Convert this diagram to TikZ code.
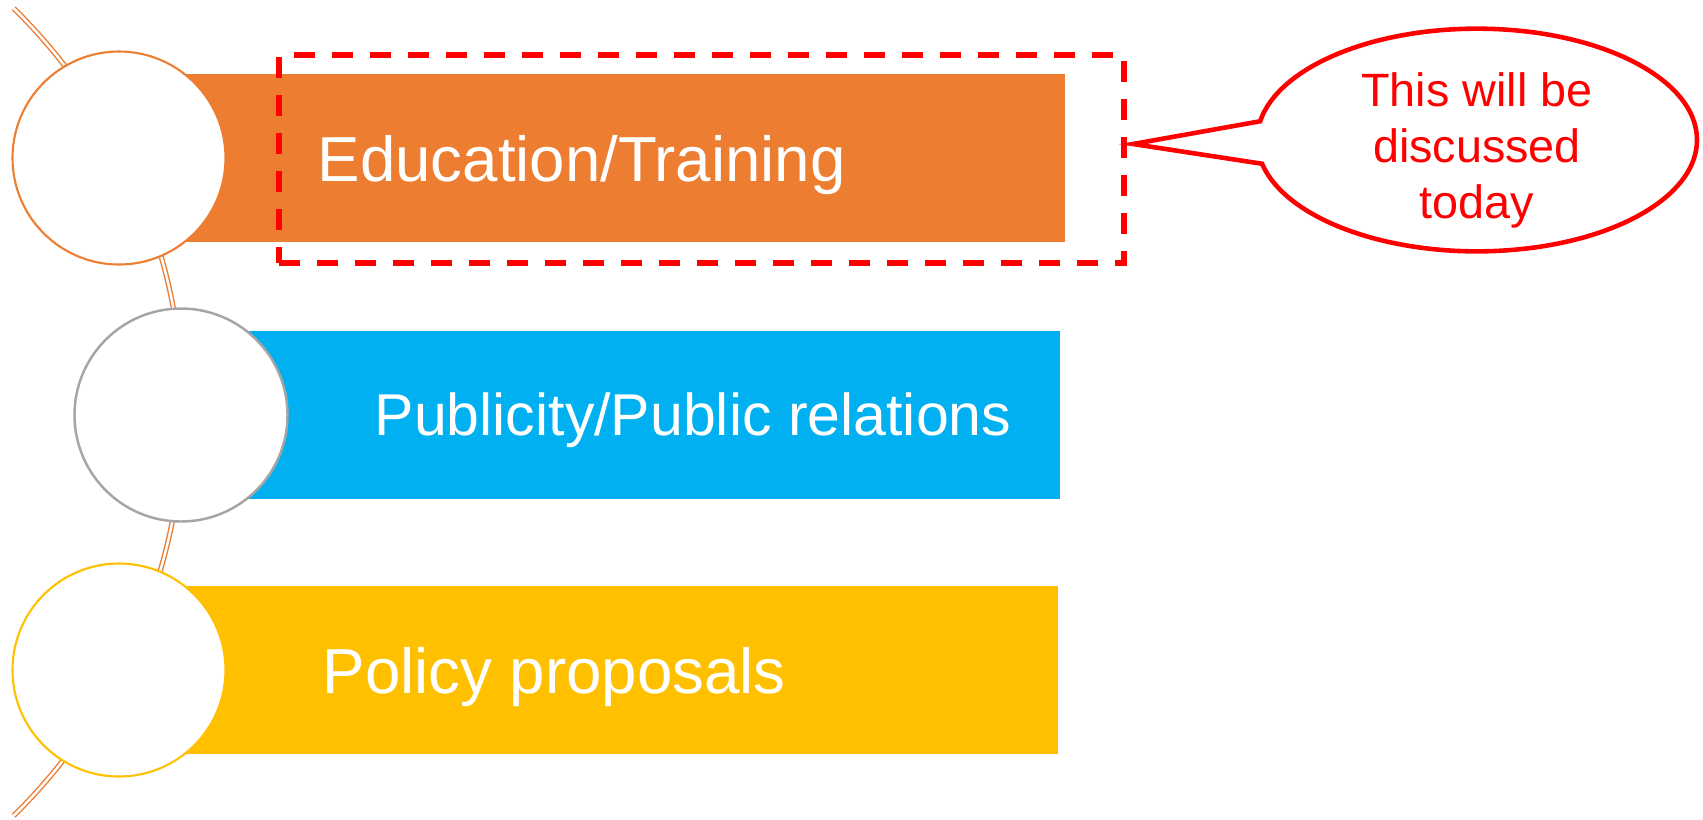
\documentclass[tikz,border=0pt]{standalone}
\usepackage{fontspec}
\setmainfont{Liberation Sans}
\usetikzlibrary{shapes.callouts}
\definecolor{eduorange}{HTML}{ED7D31}
\definecolor{pubblue}{HTML}{00B0F0}
\definecolor{polgold}{HTML}{FFC000}
\definecolor{ringgrey}{HTML}{A5A5A5}
\definecolor{notered}{HTML}{FF0000}

\begin{document}
\begin{tikzpicture}[
        bar/.style={rectangle, anchor=west, minimum height=1.68cm, inner sep=0, outer sep=0},
        ring/.style={circle, fill=white, minimum size=2.13cm, inner sep=0, line width=0.6pt},
        barlabel/.style={anchor=base west, inner sep=0, text=white, font=\fontsize{18.1}{21.6}\selectfont},
        spine/.style={draw=eduorange, line width=0.4pt, double=white, double distance=0.7pt},
        focusbox/.style={draw=notered, line width=1.6pt, dash pattern=on 0.21cm off 0.17cm, minimum width=8.45cm, minimum height=2.08cm, inner sep=0, outer sep=0},
        note/.style={ellipse callout, draw=notered, line width=1.3pt, fill=white, text=notered, align=center, inner sep=0, text depth=0pt, minimum width=4.4cm, minimum height=2.2cm, callout pointer arc=22, font=\fontsize{13.3}{16}\selectfont}]
            \useasboundingbox (0,0) rectangle (17.03,-8.19);

            \coordinate (c1) at (1.19,-1.58);
            \coordinate (c2) at (1.81,-4.15);
            \coordinate (c3) at (1.19,-6.70);
            \coordinate (hub) at (-3.83,-4.12);

            \draw[spine] (hub) ++(45.5:5.66) arc[start angle=45.5, end angle=-45.5, radius=5.66];

            \node[bar, fill=eduorange, minimum width=9.46cm] (bar1) at (c1) {};
            \node[bar, fill=pubblue, minimum width=8.79cm] (bar2) at (c2) {};
            \node[bar, fill=polgold, minimum width=9.39cm] (bar3) at (c3) {};

            \node[ring, draw=eduorange] (r1) at (c1) {};
            \node[ring, draw=ringgrey, line width=0.7pt] (r2) at (c2) {};
            \node[ring, draw=polgold] (r3) at (c3) {};

            \node[barlabel] (edu) at (3.17,-1.81) {Education/Training};
            \node[barlabel, font=\fontsize{16.8}{20}\selectfont] (pub) at (3.74,-4.35) {Publicity/Public relations};
            \node[barlabel] (pol) at (3.22,-6.93) {Policy proposals};

            \node[focusbox] (focus) at (7.015,-1.59) {};
            \coordinate (tip) at ([xshift=0.09cm, yshift=0.15cm]focus.east);
            \node[note, callout absolute pointer={(tip)}] (remark) at (14.77,-1.40) {\rule{0pt}{0.45cm}This will be\\discussed\\today};
        \end{tikzpicture}
\end{document}
